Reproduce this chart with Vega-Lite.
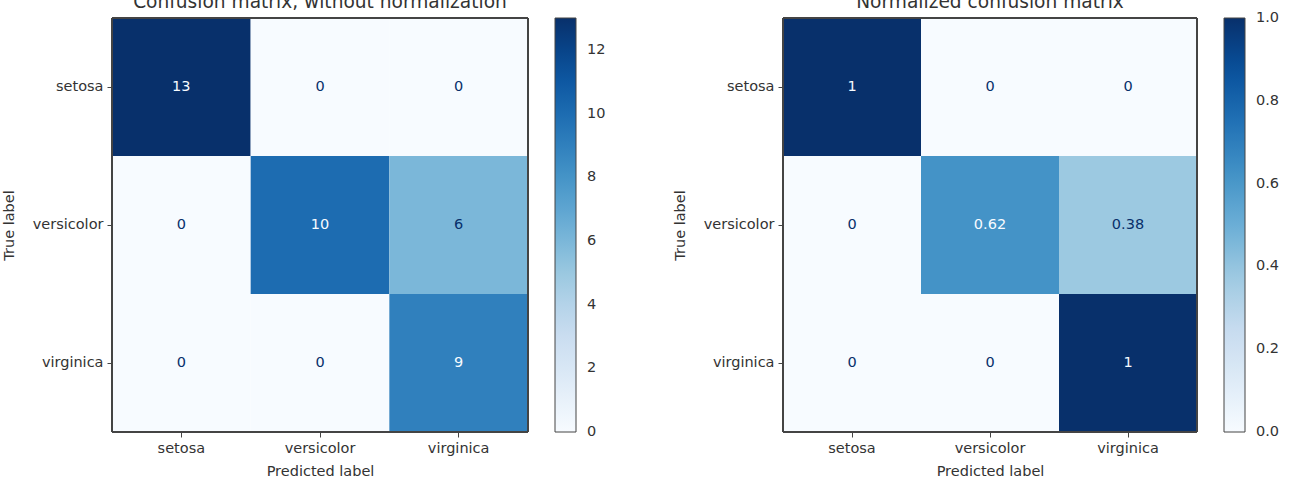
{
  "$schema": "https://vega.github.io/schema/vega-lite/v6.json",
  "background": "white",
  "padding": {"left": 1, "top": -8, "right": 0, "bottom": 0},
  "config": {
    "font": "DejaVu Sans",
    "view": {"stroke": null},
    "axis": {
      "domain": false,
      "grid": false,
      "tickColor": "#444",
      "tickSize": 5,
      "labelFontSize": 14.5,
      "labelColor": "#333",
      "labelPadding": 4,
      "titleFontSize": 14.5,
      "titleFontWeight": "normal",
      "titleColor": "#333"
    },
    "axisX": {"labelAngle": 0, "titlePadding": 10},
    "axisY": {"titlePadding": 16},
    "legend": {
      "orient": "right",
      "offset": 27,
      "padding": 0,
      "gradientLength": 414,
      "gradientThickness": 21,
      "gradientStrokeColor": "#444",
      "gradientStrokeWidth": 1,
      "labelFontSize": 14.5,
      "labelColor": "#333",
      "labelOffset": 11,
      "labelOverlap": false
    },
    "title": {
      "fontSize": 18.6,
      "fontWeight": "normal",
      "color": "#333",
      "baseline": "alphabetic",
      "offset": 6,
      "anchor": "middle"
    }
  },
  "datasets": {
    "counts": [
      {"actual": "setosa", "predicted": "setosa", "value": 13},
      {"actual": "setosa", "predicted": "versicolor", "value": 0},
      {"actual": "setosa", "predicted": "virginica", "value": 0},
      {"actual": "versicolor", "predicted": "setosa", "value": 0},
      {"actual": "versicolor", "predicted": "versicolor", "value": 10},
      {"actual": "versicolor", "predicted": "virginica", "value": 6},
      {"actual": "virginica", "predicted": "setosa", "value": 0},
      {"actual": "virginica", "predicted": "versicolor", "value": 0},
      {"actual": "virginica", "predicted": "virginica", "value": 9}
    ],
    "normalized": [
      {"actual": "setosa", "predicted": "setosa", "value": 1},
      {"actual": "setosa", "predicted": "versicolor", "value": 0},
      {"actual": "setosa", "predicted": "virginica", "value": 0},
      {"actual": "versicolor", "predicted": "setosa", "value": 0},
      {"actual": "versicolor", "predicted": "versicolor", "value": 0.62},
      {"actual": "versicolor", "predicted": "virginica", "value": 0.38},
      {"actual": "virginica", "predicted": "setosa", "value": 0},
      {"actual": "virginica", "predicted": "versicolor", "value": 0},
      {"actual": "virginica", "predicted": "virginica", "value": 1}
    ]
  },
  "bounds": "flush",
  "spacing": 255,
  "resolve": {
    "scale": {"color": "independent"},
    "legend": {"color": "independent"}
  },
  "hconcat": [
    {
      "title": "Confusion matrix, without normalization",
      "width": 416,
      "height": 414,
      "data": {"name": "counts"},
      "layer": [
        {
          "mark": "rect",
          "encoding": {
            "x": {
              "field": "predicted", "type": "nominal",
              "sort": ["setosa", "versicolor", "virginica"],
              "scale": {"paddingInner": 0, "paddingOuter": 0},
              "axis": {"title": "Predicted label"}
            },
            "y": {
              "field": "actual", "type": "nominal",
              "sort": ["setosa", "versicolor", "virginica"],
              "scale": {"paddingInner": 0, "paddingOuter": 0},
              "axis": {"title": "True label"}
            },
            "color": {
              "field": "value", "type": "quantitative",
              "scale": {
                "type": "linear",
                "interpolate": "rgb",
                "domain": [0, 1.625, 3.25, 4.875, 6.5, 8.125, 9.75, 11.375, 13],
                "range": ["#f7fbff", "#deebf7", "#c6dbef", "#9ecae1", "#6baed6", "#4292c6", "#2171b5", "#08519c", "#08306b"]
              },
              "legend": {
                "title": null,
                "values": [0, 2, 4, 6, 8, 10, 12],
                "format": "d",
                "labelOffset": 11,
                "encode": {"labels": {"update": {"baseline": {"value": "middle"}}}}
              }
            }
          }
        },
        {
          "mark": {"type": "text", "fontSize": 14.5},
          "encoding": {
            "x": {"field": "predicted", "type": "nominal", "sort": ["setosa", "versicolor", "virginica"]},
            "y": {"field": "actual", "type": "nominal", "sort": ["setosa", "versicolor", "virginica"]},
            "text": {"field": "value", "type": "quantitative", "format": "d"},
            "color": {"condition": {"test": "datum.value > 6.5", "value": "#f7fbff"}, "value": "#08306b"}
          }
        },
        {
          "mark": {"type": "rect", "filled": false, "stroke": "#444", "strokeWidth": 1},
          "encoding": {}
        }
      ]
    },
    {
      "title": "Normalized confusion matrix",
      "width": 414,
      "height": 414,
      "data": {"name": "normalized"},
      "layer": [
        {
          "mark": "rect",
          "encoding": {
            "x": {
              "field": "predicted", "type": "nominal",
              "sort": ["setosa", "versicolor", "virginica"],
              "scale": {"paddingInner": 0, "paddingOuter": 0},
              "axis": {"title": "Predicted label"}
            },
            "y": {
              "field": "actual", "type": "nominal",
              "sort": ["setosa", "versicolor", "virginica"],
              "scale": {"paddingInner": 0, "paddingOuter": 0},
              "axis": {"title": "True label"}
            },
            "color": {
              "field": "value", "type": "quantitative",
              "scale": {
                "type": "linear",
                "interpolate": "rgb",
                "domain": [0, 0.125, 0.25, 0.375, 0.5, 0.625, 0.75, 0.875, 1],
                "range": ["#f7fbff", "#deebf7", "#c6dbef", "#9ecae1", "#6baed6", "#4292c6", "#2171b5", "#08519c", "#08306b"]
              },
              "legend": {
                "title": null,
                "values": [0, 0.2, 0.4, 0.6, 0.8, 1],
                "format": ".1f",
                "labelOffset": 11,
                "encode": {"labels": {"update": {"baseline": {"value": "middle"}}}}
              }
            }
          }
        },
        {
          "mark": {"type": "text", "fontSize": 14.5},
          "encoding": {
            "x": {"field": "predicted", "type": "nominal", "sort": ["setosa", "versicolor", "virginica"]},
            "y": {"field": "actual", "type": "nominal", "sort": ["setosa", "versicolor", "virginica"]},
            "text": {"field": "value", "type": "quantitative", "format": ".2~g"},
            "color": {"condition": {"test": "datum.value > 0.5", "value": "#f7fbff"}, "value": "#08306b"}
          }
        },
        {
          "mark": {"type": "rect", "filled": false, "stroke": "#444", "strokeWidth": 1},
          "encoding": {}
        }
      ]
    }
  ]
}
